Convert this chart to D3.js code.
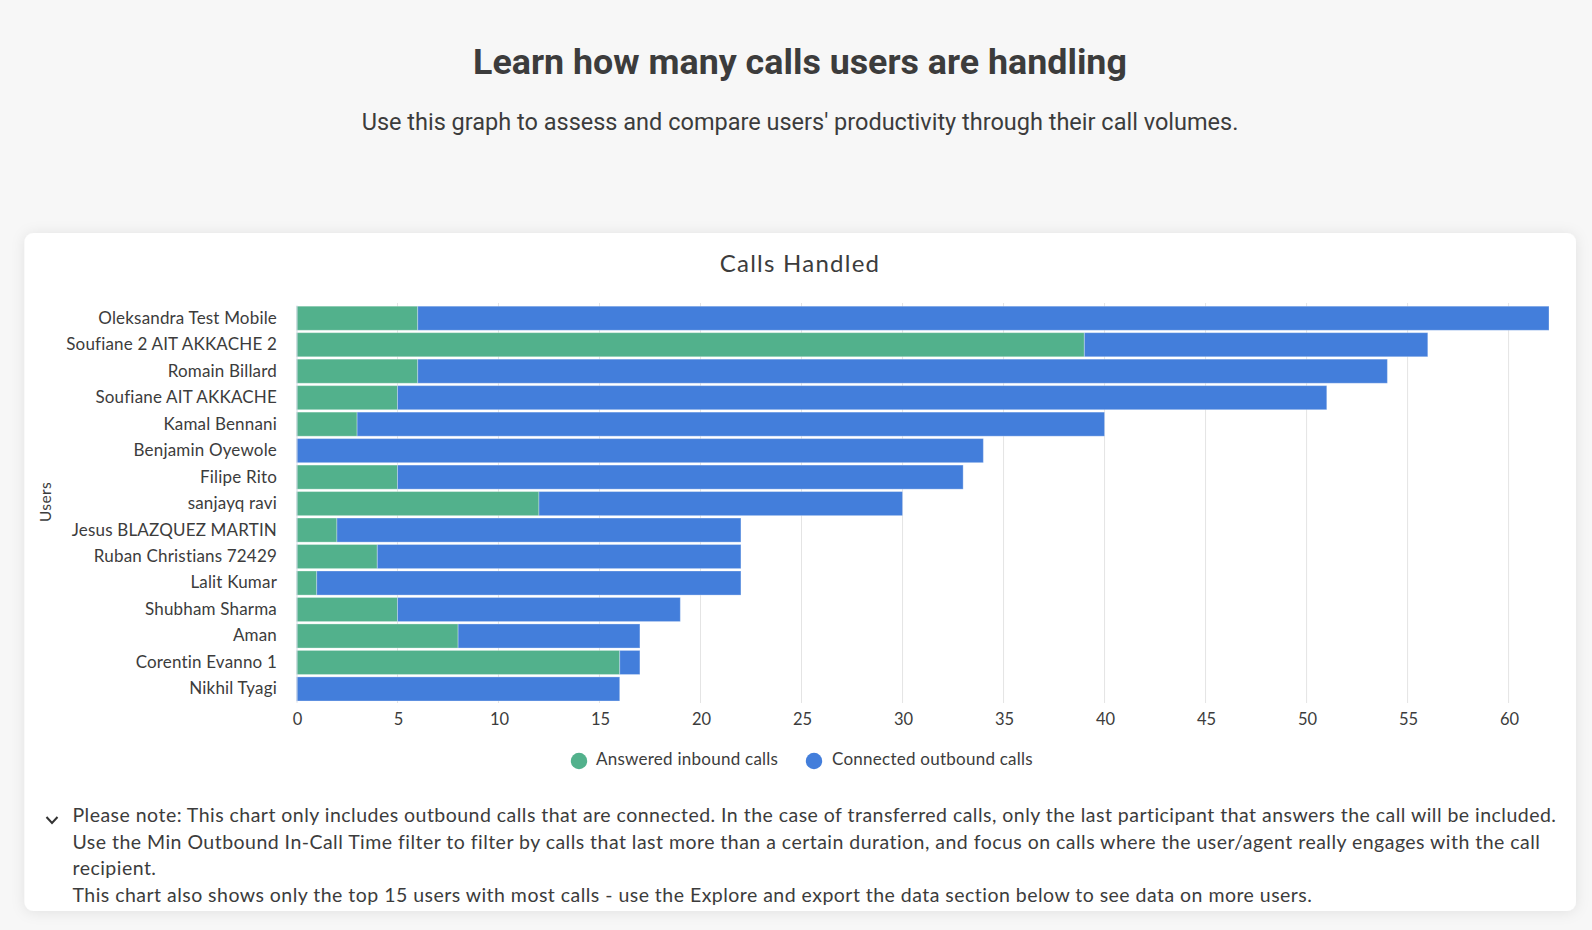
<!DOCTYPE html>
<html><head><meta charset="utf-8">
<script src="https://cdn.jsdelivr.net/npm/d3@7"></script>
<style>
html,body{margin:0;padding:0;background:#f7f7f7;overflow:hidden}
svg{display:block}
text{font-family:Lato,sans-serif;fill:#3c3c3c}
</style></head><body>
<svg id="c" width="1592" height="930"></svg>
<script>
const users=["Oleksandra Test Mobile","Soufiane 2 AIT AKKACHE 2","Romain Billard","Soufiane AIT AKKACHE","Kamal Bennani","Benjamin Oyewole","Filipe Rito","sanjayq ravi","Jesus BLAZQUEZ MARTIN","Ruban Christians 72429","Lalit Kumar","Shubham Sharma","Aman","Corentin Evanno 1","Nikhil Tyagi"];
const inbound=[6,39,6,5,3,0,5,12,2,4,1,5,8,16,0];
const outbound=[56,17,48,46,37,34,28,18,20,18,21,14,9,1,16];
const seriesNames=["Answered inbound calls","Connected outbound calls"];
const xTicks=[0,5,10,15,20,25,30,35,40,45,50,55,60];
const noteLines=["Please note: This chart only includes outbound calls that are connected. In the case of transferred calls, only the last participant that answers the call will be included.","Use the Min Outbound In-Call Time filter to filter by calls that last more than a certain duration, and focus on calls where the user/agent really engages with the call","recipient.","This chart also shows only the top 15 users with most calls - use the Explore and export the data section below to see data on more users."];
const titleText="Learn how many calls users are handling";
const subtitleText="Use this graph to assess and compare users' productivity through their call volumes.";
const chartTitle="Calls Handled";
const colors=["#52b18c","#437edb"];

const svg=d3.select("#c");
const defs=svg.append("defs");
const f=defs.append("filter").attr("id","sh").attr("x","-3%").attr("y","-5%").attr("width","106%").attr("height","110%");
f.append("feDropShadow").attr("dx",0).attr("dy",1).attr("stdDeviation",7).attr("flood-color","#000").attr("flood-opacity",0.09);

svg.append("text").attr("x",800).attr("y",74).attr("text-anchor","middle").attr("font-size",35.8).attr("font-weight",700).attr("fill","#3a3a3a").style("font-family","Roboto,sans-serif").text(titleText);
svg.append("text").attr("x",800).attr("y",130).attr("text-anchor","middle").attr("font-size",23.5).style("font-family","Roboto,sans-serif").text(subtitleText);

svg.append("rect").attr("x",24.5).attr("y",233).attr("width",1551.5).attr("height",678).attr("rx",9).attr("fill","#fff").attr("filter","url(#sh)");
svg.append("text").attr("x",800).attr("y",272).attr("text-anchor","middle").attr("font-size",24).style("letter-spacing","1.25px").text(chartTitle);

const x=d3.scaleLinear().domain([0,62]).range([296.5,1549]);
const y=d3.scaleBand().domain(users).range([305,702.2]).paddingInner(0.09).paddingOuter(0.045);

// grid
svg.append("g").selectAll("line").data(xTicks.filter(d=>d>0)).join("line")
  .attr("x1",d=>x(d)).attr("x2",d=>x(d)).attr("y1",303).attr("y2",703)
  .attr("stroke","#e4e4e4").attr("stroke-width",1);

// bars
const rows=users.map((u,i)=>({user:u,inbound:inbound[i],outbound:outbound[i]}));
const stack=d3.stack().keys(["inbound","outbound"])(rows);
svg.append("g").selectAll("g").data(stack).join("g").attr("fill",(d,i)=>colors[i])
  .selectAll("rect").data(d=>d.filter(s=>s[1]>s[0])).join("rect")
  .attr("x",d=>x(d[0])).attr("width",d=>x(d[1])-x(d[0]))
  .attr("y",d=>y(d.data.user)).attr("height",y.bandwidth())
  .attr("stroke","#fff").attr("stroke-opacity",0.3).attr("stroke-width",1);

// axes
const xAxis=svg.append("g").attr("transform","translate(0.5,704.5)").call(d3.axisBottom(x).tickValues(xTicks).tickSize(0).tickPadding(9));
xAxis.select(".domain").remove();
xAxis.selectAll("text").attr("font-size",16.5).attr("fill","#3c3c3c").style("font-family","Lato,sans-serif");

const yAxis=svg.append("g").attr("transform","translate(296.5,0)").call(d3.axisLeft(y).tickSize(0).tickPadding(19.5));
yAxis.select(".domain").attr("stroke","#d5dbe6");
yAxis.selectAll("text").attr("font-size",17).attr("fill","#3c3c3c").style("font-family","Lato,sans-serif").style("letter-spacing","0.18px");

svg.append("text").attr("transform","translate(51,502) rotate(-90)").attr("text-anchor","middle").attr("font-size",15.5).style("letter-spacing","0.4px").text("Users");

// legend
const legendX=[579,814];
const lg=svg.append("g").selectAll("g").data(seriesNames).join("g").attr("transform",(d,i)=>`translate(${legendX[i]},761)`);
lg.append("circle").attr("r",8.2).attr("fill",(d,i)=>colors[i]);
lg.append("text").attr("x",(d,i)=>i?18:17).attr("y",4).attr("font-size",17).style("letter-spacing","0.25px").text(d=>d);

// note
svg.append("path").attr("d","M46.5 817 L52 823 L57.5 817").attr("fill","none").attr("stroke","#333").attr("stroke-width",2);
svg.append("g").selectAll("text").data(noteLines).join("text")
  .attr("x",72.5).attr("y",(d,i)=>822+i*26.5).attr("font-size",19.5).style("letter-spacing","0.47px").text(d=>d);
</script></body></html>
